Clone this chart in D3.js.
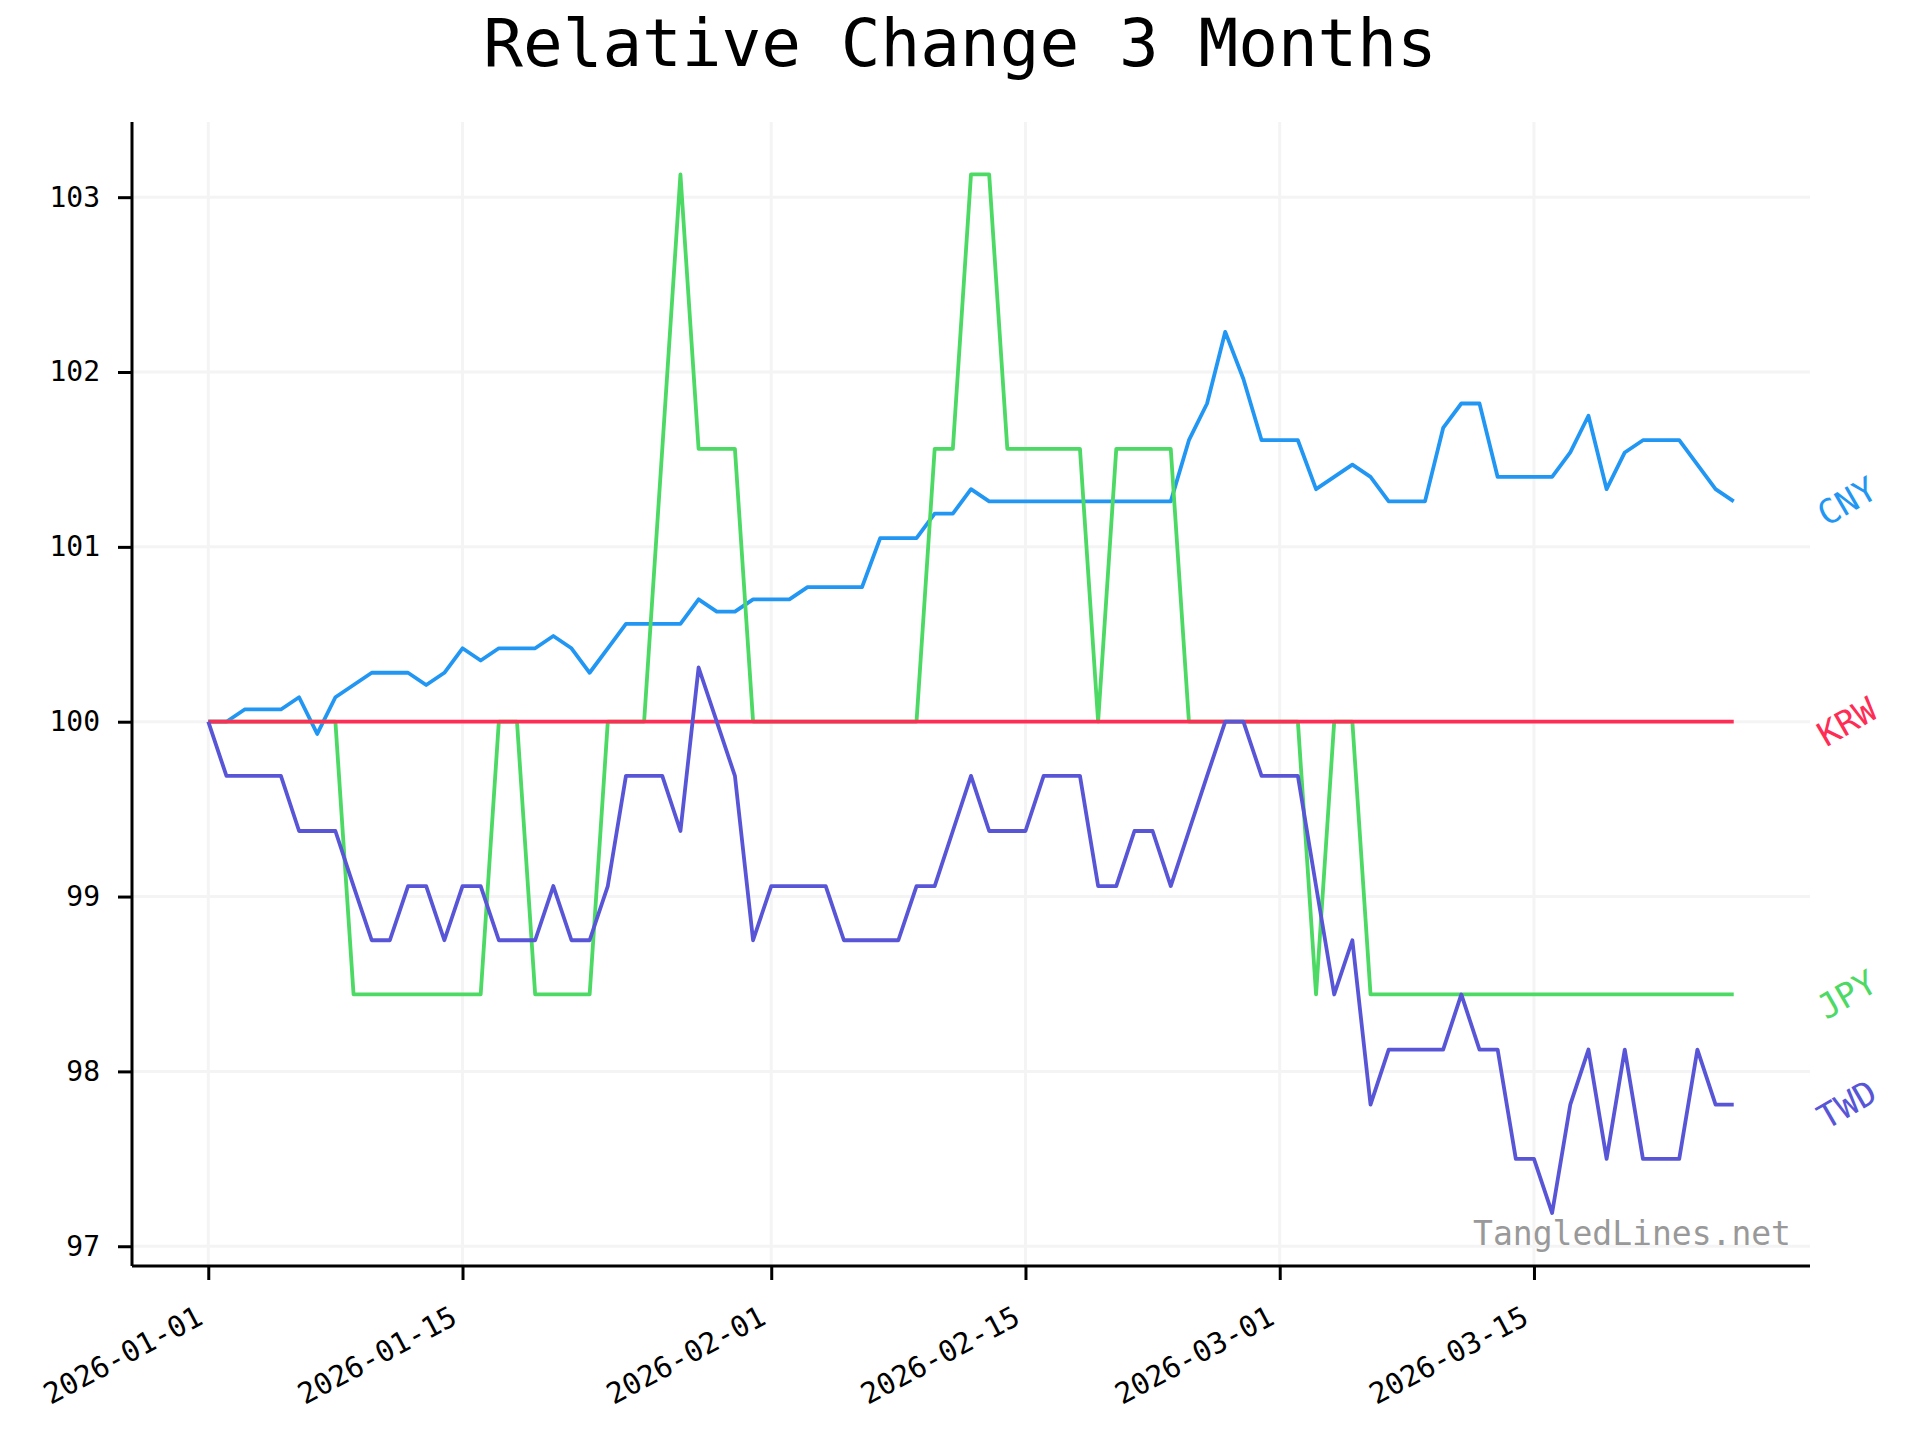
<!DOCTYPE html>
<html>
<head>
<meta charset="utf-8">
<script src="https://cdn.jsdelivr.net/npm/d3@7"></script>
<style>
  html, body { margin: 0; padding: 0; background: #fff; }
  text { font-family: "DejaVu Sans Mono", monospace; }
</style>
</head>
<body>
<svg width="1920" height="1440"></svg>
<script>
var startDate = "2026-01-01";
var dayCount = 85;
var tickDates = ["2026-01-01", "2026-01-15", "2026-02-01", "2026-02-15", "2026-03-01", "2026-03-15"];
var yTicks = [97, 98, 99, 100, 101, 102, 103];

var cny = [100, 100, 100.07, 100.07, 100.07, 100.14, 99.93, 100.14, 100.21, 100.28,
    100.28, 100.28, 100.21, 100.28, 100.42, 100.35, 100.42, 100.42, 100.42, 100.49,
    100.42, 100.28, 100.42, 100.56, 100.56, 100.56, 100.56, 100.70, 100.63, 100.63,
    100.70, 100.70, 100.70, 100.77, 100.77, 100.77, 100.77, 101.05, 101.05, 101.05,
    101.19, 101.19, 101.33, 101.26, 101.26, 101.26, 101.26, 101.26, 101.26, 101.26,
    101.26, 101.26, 101.26, 101.26, 101.61, 101.82, 102.23, 101.96, 101.61, 101.61,
    101.61, 101.33, 101.40, 101.47, 101.40, 101.26, 101.26, 101.26, 101.68, 101.82,
    101.82, 101.40, 101.40, 101.40, 101.40, 101.54, 101.75, 101.33, 101.54, 101.61,
    101.61, 101.61, 101.47, 101.33, 101.26];
var jpy = [100, 100, 100, 100, 100, 100, 100, 100, 98.44, 98.44,
    98.44, 98.44, 98.44, 98.44, 98.44, 98.44, 100, 100, 98.44, 98.44,
    98.44, 98.44, 100, 100, 100, 101.56, 103.13, 101.56, 101.56, 101.56,
    100, 100, 100, 100, 100, 100, 100, 100, 100, 100,
    101.56, 101.56, 103.13, 103.13, 101.56, 101.56, 101.56, 101.56, 101.56, 100,
    101.56, 101.56, 101.56, 101.56, 100, 100, 100, 100, 100, 100,
    100, 98.44, 100, 100, 98.44, 98.44, 98.44, 98.44, 98.44, 98.44,
    98.44, 98.44, 98.44, 98.44, 98.44, 98.44, 98.44, 98.44, 98.44, 98.44,
    98.44, 98.44, 98.44, 98.44, 98.44];
var krw = [100, 100, 100, 100, 100, 100, 100, 100, 100, 100,
    100, 100, 100, 100, 100, 100, 100, 100, 100, 100,
    100, 100, 100, 100, 100, 100, 100, 100, 100, 100,
    100, 100, 100, 100, 100, 100, 100, 100, 100, 100,
    100, 100, 100, 100, 100, 100, 100, 100, 100, 100,
    100, 100, 100, 100, 100, 100, 100, 100, 100, 100,
    100, 100, 100, 100, 100, 100, 100, 100, 100, 100,
    100, 100, 100, 100, 100, 100, 100, 100, 100, 100,
    100, 100, 100, 100, 100];
var twd = [100, 99.69, 99.69, 99.69, 99.69, 99.375, 99.375, 99.375, 99.06, 98.75,
    98.75, 99.06, 99.06, 98.75, 99.06, 99.06, 98.75, 98.75, 98.75, 99.06,
    98.75, 98.75, 99.06, 99.69, 99.69, 99.69, 99.375, 100.31, 100, 99.69,
    98.75, 99.06, 99.06, 99.06, 99.06, 98.75, 98.75, 98.75, 98.75, 99.06,
    99.06, 99.375, 99.69, 99.375, 99.375, 99.375, 99.69, 99.69, 99.69, 99.06,
    99.06, 99.375, 99.375, 99.06, 99.375, 99.69, 100, 100, 99.69, 99.69,
    99.69, 99.06, 98.44, 98.75, 97.81, 98.125, 98.125, 98.125, 98.125, 98.44,
    98.125, 98.125, 97.5, 97.5, 97.19, 97.81, 98.125, 97.5, 98.125, 97.5,
    97.5, 97.5, 98.125, 97.81, 97.81];

var seriesNames = ["CNY", "JPY", "KRW", "TWD"];
var seriesValues = [cny, jpy, krw, twd];
var seriesColors = ["#2196f3", "#4cd964", "#ff2d55", "#5856d6"];

var svg = d3.select("svg");
var plotLeft = 132, plotRight = 1810, plotTop = 122, plotBottom = 1266;

var parse = d3.utcParse("%Y-%m-%d");
var first = parse(startDate);
var dates = d3.utcDay.range(first, d3.utcDay.offset(first, dayCount));
var last = dates[dates.length - 1];
var pad = (last - first) * 0.05;

var x = d3.scaleUtc().domain([new Date(+first - pad), new Date(+last + pad)]).range([plotLeft, plotRight]);
var y = d3.scaleLinear().domain([96.887, 103.43]).range([plotBottom, plotTop]);

svg.append("rect").attr("width", 1920).attr("height", 1440).attr("fill", "#fff");

// grid
var grid = svg.append("g");
grid.selectAll("line.h")
    .data(yTicks)
    .join("line")
    .attr("class", "h")
    .attr("x1", plotLeft).attr("x2", plotRight)
    .attr("y1", function (d) { return y(d); })
    .attr("y2", function (d) { return y(d); })
    .style("stroke", "#f4f4f4").style("stroke-width", 3);
grid.selectAll("line.v")
    .data(tickDates)
    .join("line")
    .attr("class", "v")
    .attr("y1", plotTop).attr("y2", plotBottom)
    .attr("x1", function (d) { return x(parse(d)); })
    .attr("x2", function (d) { return x(parse(d)); })
    .style("stroke", "#f4f4f4").style("stroke-width", 3);

var line = d3.line()
    .x(function (d, i) { return x(dates[i]); })
    .y(function (d) { return y(d); });

svg.append("g")
    .selectAll("path")
    .data(seriesValues)
    .join("path")
    .attr("d", line)
    .attr("fill", "none")
    .style("stroke", function (d, i) { return seriesColors[i]; })
    .style("stroke-width", 3.8)
    .style("stroke-linejoin", "round");

// axes
var yAxis = svg.append("g")
    .attr("transform", "translate(" + plotLeft + ",0)")
    .call(d3.axisLeft(y).tickValues(yTicks).tickSize(14).tickPadding(18).tickFormat(d3.format("d")));
var xAxis = svg.append("g")
    .attr("transform", "translate(0," + plotBottom + ")")
    .call(d3.axisBottom(x).tickValues(tickDates.map(parse)).tickSize(14).tickFormat(d3.utcFormat("%Y-%m-%d")));

yAxis.select(".domain").attr("d", "M0," + plotTop + "V" + plotBottom);
xAxis.select(".domain").attr("d", "M" + plotLeft + ",0H" + plotRight);
svg.selectAll(".domain").style("stroke", "#000").style("stroke-width", 3);
svg.selectAll(".tick line").style("stroke", "#000").style("stroke-width", 3);
svg.selectAll(".tick text")
    .style("font-family", "DejaVu Sans Mono")
    .style("font-size", "28px")
    .style("fill", "#000");
xAxis.selectAll(".tick text")
    .style("font-size", "29px")
    .attr("text-anchor", "end")
    .attr("x", 0).attr("y", 0).attr("dy", 0)
    .attr("transform", "translate(-4,57) rotate(-28)");

// end labels
svg.append("g")
    .selectAll("text")
    .data(seriesNames)
    .join("text")
    .attr("transform", function (d, i) {
        var v = seriesValues[i][dayCount - 1];
        return "translate(1847," + y(v) + ") rotate(-30)";
    })
    .attr("text-anchor", "middle")
    .attr("dy", "0.35em")
    .style("font-size", "34px")
    .style("fill", function (d, i) { return seriesColors[i]; })
    .text(function (d) { return d; });

svg.append("text")
    .attr("x", 960).attr("y", 66)
    .attr("text-anchor", "middle")
    .style("font-size", "66px")
    .style("fill", "#000")
    .text("Relative Change 3 Months");

svg.append("text")
    .attr("x", 1791).attr("y", 1245)
    .attr("text-anchor", "end")
    .style("font-size", "33px")
    .style("fill", "#999")
    .text("TangledLines.net");
</script>
</body>
</html>
